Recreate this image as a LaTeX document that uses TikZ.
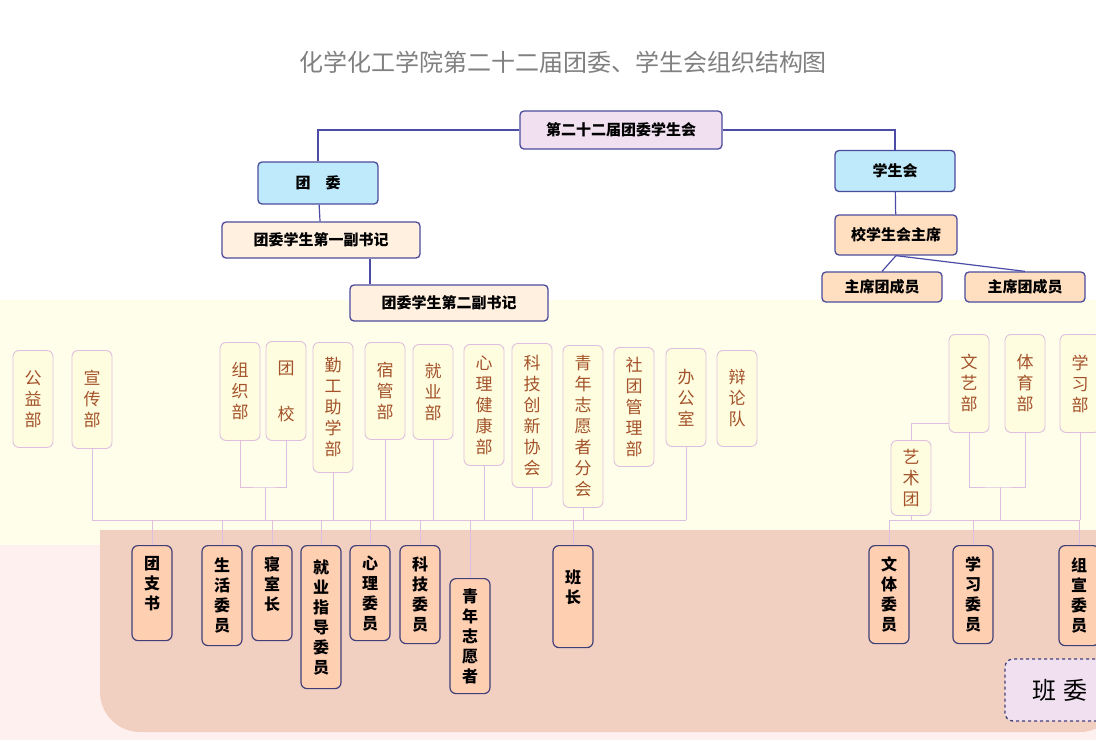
\documentclass[tikz,border=0pt]{standalone}
\usepackage{fontspec}
\setmainfont{Noto Sans CJK SC}
\begin{document}
\begin{tikzpicture}[x=1pt,y=-1pt,
  blink/.style={draw=blue!50!black!70,line width=1.2pt},
  plink/.style={draw=violet!25,line width=0.9pt},
  top/.style={draw=blue!45!black!70,line width=1.3pt,rounded corners=4pt,font=\bfseries\fontsize{15}{17}\selectfont,inner sep=0pt},
  dept/.style={draw=violet!25,fill=yellow!12,line width=0.9pt,rounded corners=6pt,text=brown!80!red!80!black,font=\fontsize{17}{21}\selectfont,inner sep=0pt,align=center,anchor=north,minimum width=40pt},
  cls/.style={draw=blue!30!black!75,fill=red!25!orange!30,line width=1.2pt,rounded corners=6pt,font=\bfseries\fontsize{16}{20}\selectfont,inner sep=0pt,align=center,anchor=north,minimum width=40pt}]
\useasboundingbox (0,0) rectangle (1096,740);
\fill[white] (0,0) rectangle (1096,740);
\fill[yellow!8] (0,300) rectangle (1096,545);
\fill[red!6] (0,545) rectangle (1096,740);
\fill[red!25!brown!30] (100,530) [rounded corners=40pt] -- (100,732) -- (1120,732) [sharp corners] -- (1120,530) -- cycle;
\node[font=\fontsize{24}{28}\selectfont,text=gray] (title) at (563,62) {化学化工学院第二十二届团委、学生会组织结构图};
% top level
\node[top,fill=violet!12,minimum width=202pt,minimum height=38pt] (root) at (621,130) {第二十二届团委学生会};
\node[top,fill=cyan!25,minimum width=120pt,minimum height=42pt] (tw) at (318,183) {团\quad 委};
\node[top,fill=cyan!25,minimum width=120pt,minimum height=41pt] (xsh) at (895,171) {学生会};
\draw[blink] (root.west) -| (tw.north);
\draw[blink] (root.east) -| (xsh.north);
\node[top,fill=orange!12,minimum width=198pt,minimum height=36pt] (fs1) at (321,240) {团委学生第一副书记};
\node[top,fill=orange!12,minimum width=198pt,minimum height=36pt] (fs2) at (449,303) {团委学生第二副书记};
\draw[blink] (tw) -- (fs1);
\draw[blink] (fs1.south) ++(49,0) coordinate (c1) -- (c1 |- fs2.north);
\node[top,fill=orange!25,minimum width=122pt,minimum height=40pt] (zx) at (896,235) {校学生会主席};
\node[top,fill=orange!25,minimum width=120pt,minimum height=30pt] (zt1) at (882,287) {主席团成员};
\node[top,fill=orange!25,minimum width=120pt,minimum height=30pt] (zt2) at (1025,287) {主席团成员};
\draw[blink] (xsh) -- (zx);
\draw[blink] (zx.south) -- (zt1.north);
\draw[blink] (zx.south) -- (zt2.north);
% departments
\node[dept,minimum height=97pt] (gy) at (33,350) {公\\益\\部};
\node[dept,minimum height=98pt] (xc) at (92,350) {宣\\传\\部};
\node[dept,minimum height=98pt] (zz) at (240,342) {组\\织\\部};
\node[dept,minimum height=99pt] (tx) at (286,341) {团\\[4pt]\\校};
\node[dept,minimum height=130pt] (qg) at (333,342) {勤\\工\\助\\学\\部};
\node[dept,minimum height=97pt] (sg) at (385,342) {宿\\管\\部};
\node[dept,minimum height=95pt] (jy) at (433,344) {就\\业\\部};
\node[dept,minimum height=121pt] (xl) at (484,344) {心\\理\\健\\康\\部};
\node[dept,minimum height=144pt] (kj) at (532,343) {科\\技\\创\\新\\协\\会};
\node[dept,minimum height=162pt] (qn) at (583,345) {青\\年\\志\\愿\\者\\分\\会};
\node[dept,minimum height=119pt] (st) at (634,347) {社\\团\\管\\理\\部};
\node[dept,minimum height=98pt] (bg) at (686,348) {办\\公\\室};
\node[dept,minimum height=96pt] (bl) at (737,350) {辩\\论\\队};
\node[dept,minimum height=98pt] (wy) at (969,334) {文\\艺\\部};
\node[dept,minimum height=98pt] (ty) at (1025,334) {体\\育\\部};
\node[dept,minimum height=98pt] (xx) at (1080,334) {学\\习\\部};
\node[dept,minimum height=75pt] (ys) at (911,440) {艺\\术\\团};
\draw[plink] (wy.west) ++(0,40) coordinate (w1) -| (ys.north);
% class committee
\node[cls,minimum height=95pt] (tzs) at (152,545) {团\\支\\书\\ };
\node[cls,minimum height=100pt] (shw) at (222,545) {生\\活\\委\\员};
\node[cls,minimum height=95pt] (qsz) at (272,545) {寝\\室\\长\\ };
\node[cls,minimum height=143pt] (jyzd) at (321,545) {就\\业\\指\\导\\委\\员};
\node[cls,minimum height=95pt] (xlw) at (370,545) {心\\理\\委\\员};
\node[cls,minimum height=98pt] (kjw) at (420,545) {科\\技\\委\\员};
\node[cls,minimum height=115pt] (qnz) at (470,578) {青\\年\\志\\愿\\者};
\node[cls,minimum height=102pt] (bz) at (573,545) {班\\长\\ };
\node[cls,minimum height=98pt] (wtw) at (889,545) {文\\体\\委\\员};
\node[cls,minimum height=98pt] (xxw) at (973,545) {学\\习\\委\\员};
\node[cls,minimum height=100pt] (zxw) at (1079,545) {组\\宣\\委\\员};
% bus lines
\coordinate (busL) at (92,520);
\coordinate (busR) at (686,520);
\coordinate (busL2) at (889,520);
\coordinate (busR2) at (1080,520);
\coordinate (j1) at (265,487);
\coordinate (j2) at (1000,487);
\draw[plink] (busL) -- (busR);
\draw[plink] (busL2) -- (busR2);
\draw[plink] (zz.south) |- (j1) -| (tx.south);
\draw[plink] (j1) -- (j1 |- busL);
\draw[plink] (wy.south) |- (j2) -| (ty.south);
\draw[plink] (j2) -- (j2 |- busL2);
\foreach \n in {xc,qg,sg,jy,xl,kj,qn,bg} \draw[plink] (\n.south) -- (\n.south |- busL);
\foreach \n in {tzs,shw,qsz,jyzd,xlw,kjw,qnz,bz} \draw[plink] (\n.north) -- (\n.north |- busL);
\foreach \n in {ys,xx} \draw[plink] (\n.south) -- (\n.south |- busL2);
\foreach \n in {wtw,xxw,zxw} \draw[plink] (\n.north) -- (\n.north |- busL2);
% 班委 label
\node[draw=blue!30!black!75,dashed,line width=1.3pt,fill=violet!12,rounded corners=8pt,minimum width=110pt,minimum height=62pt,font=\fontsize{24}{28}\selectfont] (bw) at (1060,690) {班\;委};
\end{tikzpicture}
\end{document}
